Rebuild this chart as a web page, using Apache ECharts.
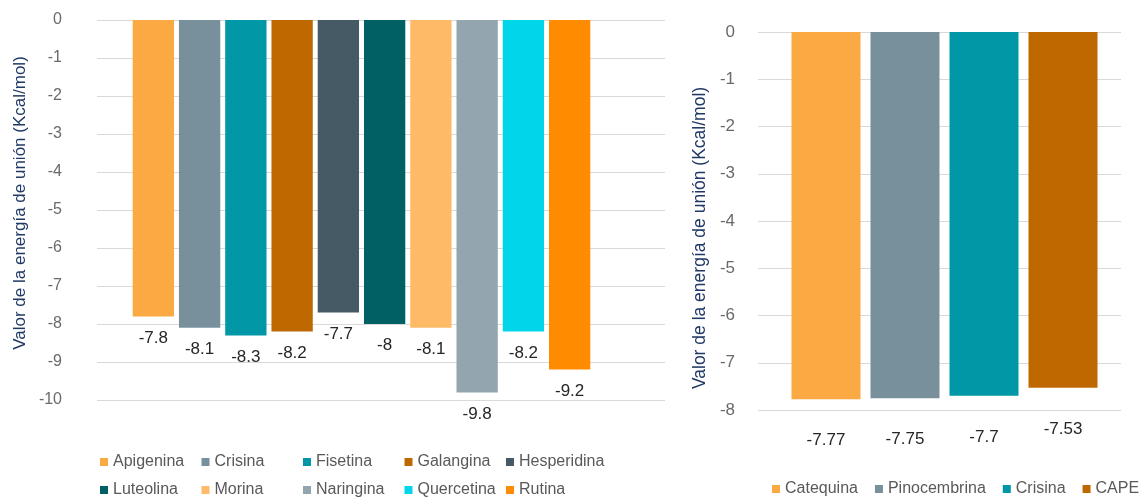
<!DOCTYPE html>
<html>
<head>
<meta charset="utf-8">
<script src="https://cdn.jsdelivr.net/npm/echarts@6/dist/echarts.min.js"></script>
<style>
  html, body { margin: 0; padding: 0; background: #fff; }
  #wrap { position: relative; width: 1145px; height: 497px; }
  #left { position: absolute; left: 0; top: 0; width: 680px; height: 497px; }
  #right { position: absolute; left: 680px; top: 0; width: 465px; height: 497px; }
</style>
</head>
<body>
<div id="wrap">
  <div id="left"></div>
  <div id="right"></div>
</div>
<script>
// Binding energies (Kcal/mol) of the flavonoids
const leftNames = ['Apigenina', 'Crisina', 'Fisetina', 'Galangina', 'Hesperidina',
                   'Luteolina', 'Morina', 'Naringina', 'Quercetina', 'Rutina'];
const leftValues = [-7.8, -8.1, -8.3, -8.2, -7.7, -8, -8.1, -9.8, -8.2, -9.2];
const leftColors = ['#FBA943', '#78909C', '#0097A7', '#C06800', '#455A64',
                    '#006064', '#FFBA68', '#93A5AE', '#00D5EA', '#FF8C00'];

// Binding energies (Kcal/mol) of the second group
const rightNames = ['Catequina', 'Pinocembrina', 'Crisina', 'CAPE'];
const rightValues = [-7.77, -7.75, -7.7, -7.53];
const rightColors = ['#FBA943', '#78909C', '#0097A7', '#C06800'];

const axisTitle = 'Valor de la energía de unión (Kcal/mol)';
const FONT = 'Liberation Sans, Arial, sans-serif';
const TICK_COLOR = '#6a6a6a';
const LABEL_COLOR = '#262626';
const LEGEND_COLOR = '#595959';
const TITLE_COLOR = '#1F3864';
const GRID_COLOR = '#d9d9d9';

function barSeries(names, values, colors, opts) {
  return names.map((name, i) => ({
    name: name,
    type: 'bar',
    xAxisIndex: 1,
    yAxisIndex: 1,
    barWidth: opts.barWidth,
    barGap: opts.barGap,
    itemStyle: { color: colors[i] },
    label: {
      show: true,
      position: 'bottom',
      distance: opts.labelDistance,
      color: LABEL_COLOR,
      fontFamily: FONT,
      fontSize: 17,
      formatter: p => String(p.value)
    },
    data: [values[i]]
  }));
}

function valueAxes(min, interval, labelMargin, fontSize) {
  return [
    {
      type: 'value', gridIndex: 0, min: min, max: 0, interval: interval,
      axisLine: { show: false }, axisTick: { show: false },
      axisLabel: { color: TICK_COLOR, fontFamily: FONT, fontSize: fontSize, margin: labelMargin },
      splitLine: { lineStyle: { color: GRID_COLOR, width: 1 } }
    },
    {
      type: 'value', gridIndex: 1, min: min, max: 0, interval: interval,
      axisLine: { show: false }, axisTick: { show: false },
      axisLabel: { show: false }, splitLine: { show: false }
    }
  ];
}

function categoryAxes() {
  return [
    { type: 'category', gridIndex: 0, data: [''], show: false },
    { type: 'category', gridIndex: 1, data: [''], show: false }
  ];
}

// Left chart: legend entries placed in a 5-column table, one legend per entry
const leftChart = echarts.init(document.getElementById('left'), null, { renderer: 'canvas' });
const COLS = 5, COL_W = 101.5, LEG_LEFT = 100, ROW_TOPS = [454, 482];
const leftLegends = leftNames.map((name, i) => ({
  data: [name],
  left: LEG_LEFT + (i % COLS) * COL_W,
  top: ROW_TOPS[Math.floor(i / COLS)],
  padding: 0,
  itemWidth: 8, itemHeight: 8, icon: 'rect',
  textStyle: { color: LEGEND_COLOR, fontFamily: FONT, fontSize: 16 }
}));
leftChart.setOption({
  animation: false,
  grid: [
    { left: 97, right: 15, top: 20, bottom: 97 },
    { left: 97, right: 54, top: 20, bottom: 97 }
  ],
  xAxis: categoryAxes(),
  yAxis: valueAxes(-10, 1, 35, 16),
  legend: leftLegends,
  graphic: [{
    type: 'text', x: 20, y: 203, rotation: Math.PI / 2,
    style: {
      text: axisTitle, fill: TITLE_COLOR, font: '17px ' + FONT,
      align: 'center', verticalAlign: 'middle'
    }
  }],
  series: barSeries(leftNames, leftValues, leftColors, { barWidth: 41.3, barGap: '12%', labelDistance: 13 })
});

// Right chart
const rightChart = echarts.init(document.getElementById('right'), null, { renderer: 'canvas' });
rightChart.setOption({
  animation: false,
  grid: [
    { left: 78, right: 24, top: 32, bottom: 87 },
    { left: 88, right: 24, top: 32, bottom: 87 }
  ],
  xAxis: categoryAxes(),
  yAxis: valueAxes(-8, 1, 23, 17),
  legend: {
    data: rightNames, left: 92, top: 481, itemGap: 17, width: 380, padding: 0,
    itemWidth: 8, itemHeight: 8, icon: 'rect',
    textStyle: { color: LEGEND_COLOR, fontFamily: FONT, fontSize: 16 }
  },
  graphic: [{
    type: 'text', x: 20, y: 238, rotation: Math.PI / 2,
    style: {
      text: axisTitle, fill: TITLE_COLOR, font: '17.5px ' + FONT,
      align: 'center', verticalAlign: 'middle'
    }
  }],
  series: barSeries(rightNames, rightValues, rightColors, { barWidth: 69, barGap: '14.5%', labelDistance: 33 })
});
</script>
</body>
</html>
